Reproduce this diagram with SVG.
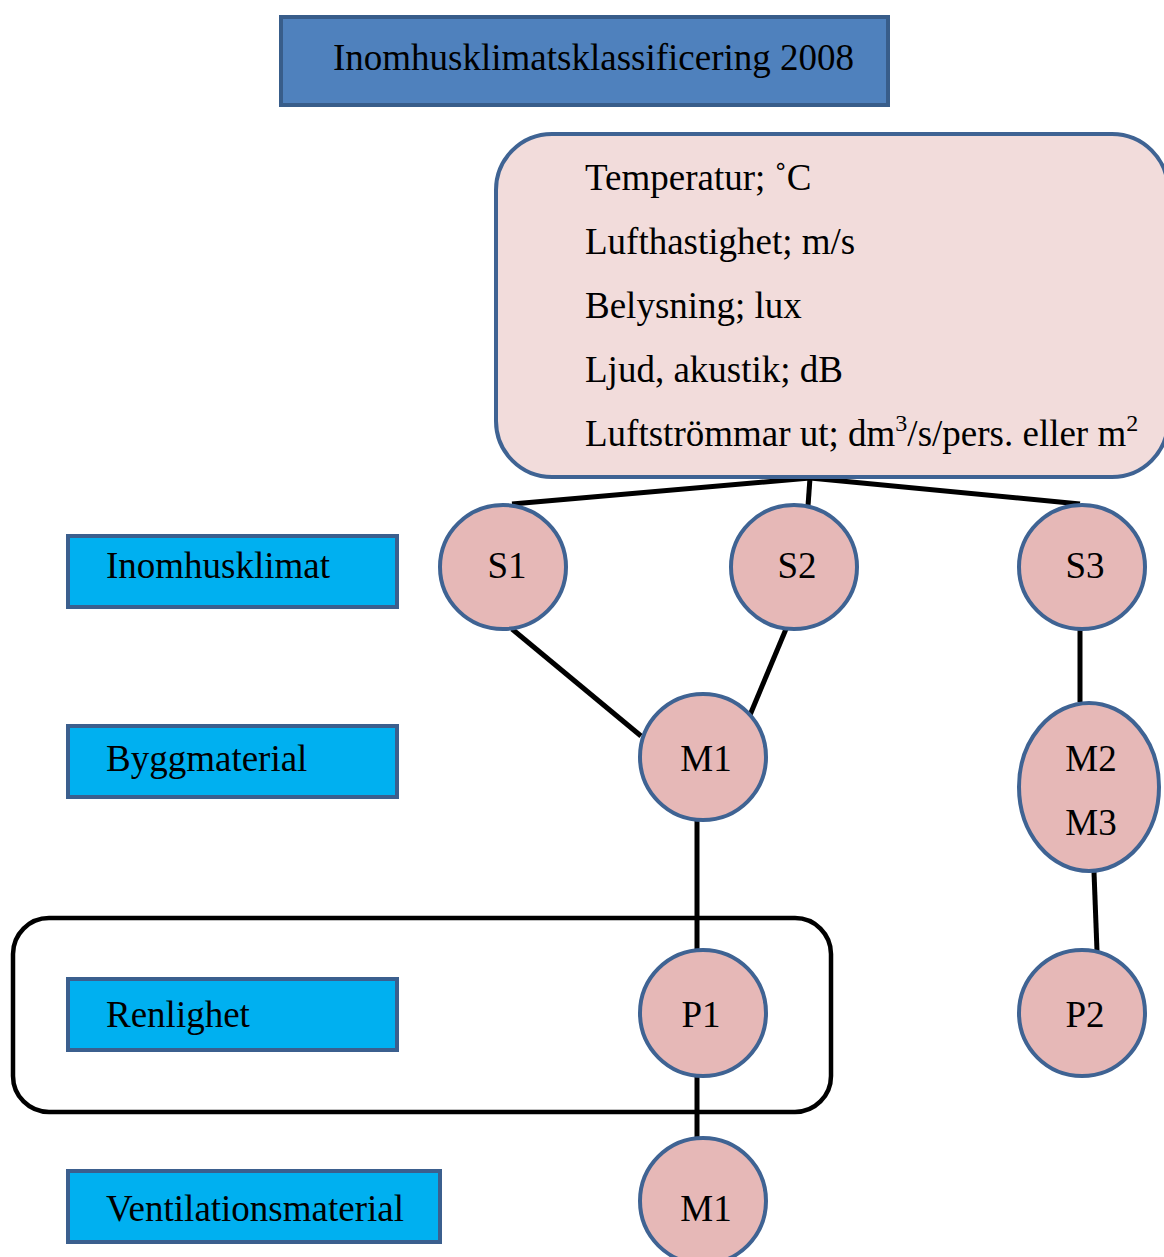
<svg xmlns="http://www.w3.org/2000/svg" width="1164" height="1257" viewBox="0 0 1164 1257">
<style>
text{font-family:"Liberation Serif","Times New Roman",serif;fill:#000;font-size:37px}
.lbl{fill:#00B0F0;stroke:#3B5F8E;stroke-width:4}
.node{fill:#E6B8B7;stroke:#3F6393;stroke-width:4}
.c{text-anchor:middle}
#connectors line{stroke:#000;stroke-width:5;stroke-linecap:butt}
</style>
<rect width="1164" height="1257" fill="#fff"/>
<g id="group-renlighet">
<rect x="13" y="918" width="818" height="194" rx="36" fill="none" stroke="#000" stroke-width="4.5"/>
</g>
<g id="connectors">
<line x1="810" y1="478" x2="512" y2="504"/>
<line x1="810" y1="478" x2="1080" y2="504"/>
<line x1="810" y1="478" x2="808" y2="506"/>
<line x1="512" y1="629" x2="641" y2="736"/>
<line x1="786" y1="629" x2="750" y2="715"/>
<line x1="1080" y1="629" x2="1080" y2="702"/>
<line x1="697" y1="819" x2="697" y2="950"/>
<line x1="1094" y1="872" x2="1097" y2="951"/>
<line x1="697" y1="1076" x2="697" y2="1138"/>
</g>
<g id="title">
<rect x="281" y="17" width="607" height="88" fill="#4F81BD" stroke="#385D8A" stroke-width="4"/>
<text x="333" y="70">Inomhusklimatsklassificering 2008</text>
</g>
<g id="parameters">
<rect x="496" y="134" width="672" height="343" rx="56" fill="#F2DCDB" stroke="#3F6393" stroke-width="4"/>
<text x="585" y="190">Temperatur; ˚C</text>
<text x="585" y="254">Lufthastighet; m/s</text>
<text x="585" y="318">Belysning; lux</text>
<text x="585" y="382">Ljud, akustik; dB</text>
<text x="585" y="446">Luftströmmar ut; dm<tspan font-size="24" dy="-15">3</tspan><tspan dy="15">/s/pers. eller m</tspan><tspan font-size="24" dy="-15">2</tspan></text>
</g>
<g id="label-inomhusklimat">
<rect class="lbl" x="68" y="536" width="329" height="71"/>
<text x="106" y="578">Inomhusklimat</text>
</g>
<g id="label-byggmaterial">
<rect class="lbl" x="68" y="726" width="329" height="71"/>
<text x="106" y="771">Byggmaterial</text>
</g>
<g id="label-renlighet">
<rect class="lbl" x="68" y="979" width="329" height="71"/>
<text x="106" y="1027">Renlighet</text>
</g>
<g id="label-ventilationsmaterial">
<rect class="lbl" x="68" y="1171" width="372" height="71"/>
<text x="106" y="1221">Ventilationsmaterial</text>
</g>
<g id="S1">
<ellipse class="node" cx="503" cy="567" rx="63" ry="62"/>
<text class="c" x="507" y="578">S1</text>
</g>
<g id="S2">
<ellipse class="node" cx="794" cy="567" rx="63" ry="62"/>
<text class="c" x="797" y="578">S2</text>
</g>
<g id="S3">
<ellipse class="node" cx="1082" cy="567" rx="63" ry="62"/>
<text class="c" x="1085" y="578">S3</text>
</g>
<g id="M1">
<ellipse class="node" cx="703" cy="757" rx="63" ry="63"/>
<text class="c" x="706" y="771">M1</text>
</g>
<g id="M2M3">
<ellipse class="node" cx="1089" cy="787" rx="70" ry="84"/>
<text class="c" x="1091" y="771">M2</text>
<text class="c" x="1091" y="835">M3</text>
</g>
<g id="P1">
<ellipse class="node" cx="703" cy="1013" rx="63" ry="63"/>
<text class="c" x="701" y="1027">P1</text>
</g>
<g id="P2">
<ellipse class="node" cx="1082" cy="1013" rx="63" ry="63"/>
<text class="c" x="1085" y="1027">P2</text>
</g>
<g id="M1b">
<ellipse class="node" cx="703" cy="1201" rx="63" ry="63"/>
<text class="c" x="706" y="1221">M1</text>
</g>
</svg>
